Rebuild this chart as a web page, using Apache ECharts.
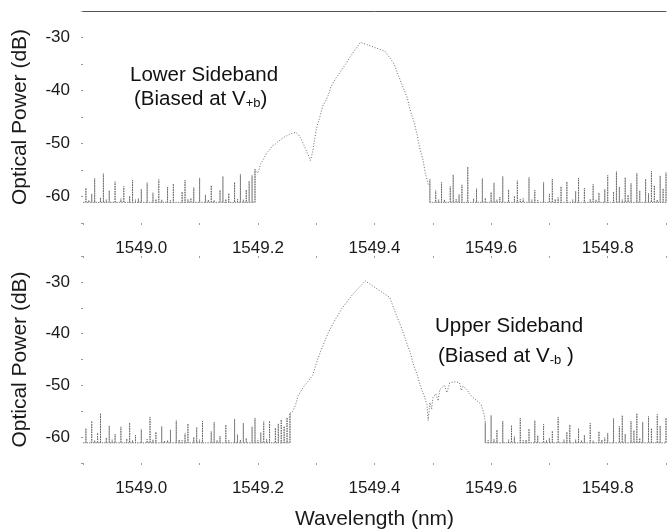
<!DOCTYPE html>
<html>
<head>
<meta charset="utf-8">
<script src="https://cdn.jsdelivr.net/npm/echarts@6/dist/echarts.min.js"></script>
<style>
  html, body { margin: 0; padding: 0; background: #fff; }
  #chart { width: 669px; height: 531px; }
</style>
</head>
<body>
<div id="chart"></div>
<script>
// sample step of the analyser in the flat noise stretches (nm)
const NOISE_STEP = 0.005;
// level the noise spikes rise from (dB)
const NOISE_FLOOR = -61.1;

// ---- top panel: lower sideband (biased at V+b) ----
const lowerLeftStart = 1548.9;
const lowerLeftNoise = [
  -61.0,-58.4,-60.7,-59.5,-56.6,-60.9,-60.2,-55.7,-60.6,-58.9,
  -61.0,-57.2,-60.8,-60.4,-58.1,-61.0,-59.9,-56.9,-60.6,-60.4,
  -58.6,-61.0,-57.4,-60.9,-59.3,-60.5,-56.8,-60.6,-61.0,-58.2,
  -60.7,-57.6,-60.9,-61.0,-59.1,-56.9,-60.5,-60.3,-58.3,-61.0,
  -56.5,-60.9,-59.7,-60.6,-57.9,-60.7,-61.0,-58.8,-56.2,-60.5,
  -59.4,-61.0,-57.3,-60.5,-55.8,-60.6,-58.7,-57.1,-56.0,-54.9
];
const lowerPeakWl = [
  1549.195,1549.200,1549.205,1549.210,1549.215,1549.220,1549.225,1549.230,1549.235,1549.240,1549.245,
  1549.250,1549.255,1549.260,1549.265,1549.270,1549.275,1549.280,1549.285,1549.290,1549.293,
  1549.297,1549.300,1549.306,1549.311,1549.320,1549.325,1549.333,1549.342,1549.350,1549.358,
  1549.365,1549.376,1549.418,1549.426,1549.434,1549.439,1549.449,1549.456,1549.461,1549.468,
  1549.473,1549.478,1549.483,1549.487,1549.493
];
const lowerPeakDb = [
  -54.9,-55.6,-53.8,-52.9,-51.8,-51.2,-50.4,-50.1,-49.6,-49.2,-48.8,
  -48.5,-48.2,-48.0,-47.9,-48.4,-49.3,-50.6,-51.8,-53.2,-52.0,
  -49.5,-47.4,-45.1,-43.0,-41.1,-39.4,-37.8,-36.4,-35.1,-33.7,
  -32.6,-30.9,-32.6,-33.8,-35.1,-36.6,-39.4,-41.3,-43.6,-46.0,
  -48.3,-51.1,-53.0,-55.5,-58.0
];
const lowerRightStart = 1549.495;
const lowerRightNoise = [
  -56.8,-61.0,-58.9,-60.6,-57.3,-60.6,-61.0,-58.1,-55.9,-60.5,
  -59.6,-57.8,-61.0,-54.4,-60.9,-60.4,-58.5,-61.0,-56.6,-60.3,
  -61.0,-59.2,-57.4,-60.6,-60.1,-56.2,-61.0,-58.7,-60.9,-59.9,
  -57.0,-60.5,-60.4,-61.0,-56.4,-60.6,-58.8,-60.7,-61.0,-57.3,
  -60.9,-59.5,-56.7,-60.5,-60.2,-58.1,-61.0,-57.2,-60.8,-60.6,
  -59.0,-56.5,-61.0,-58.4,-61.0,-60.5,-57.7,-60.6,-59.3,-61.0,
  -58.6,-56.0,-60.9,-59.1,-55.3,-58.2,-60.6,-56.4,-59.7,-57.5,
  -61.0,-55.6,-58.9,-60.8,-56.7,-59.4,-55.2,-57.9,-60.6,-56.1,
  -58.5,-55.5
];

// ---- bottom panel: upper sideband (biased at V-b) ----
const upperLeftStart = 1548.9;
const upperLeftNoise = [
  -61.0,-58.3,-60.9,-56.9,-60.6,-59.2,-55.4,-61.0,-60.1,-57.8,
  -60.5,-59.4,-60.9,-58.0,-61.0,-60.3,-57.2,-60.6,-59.6,-61.0,
  -58.5,-61.0,-60.4,-56.1,-60.5,-59.0,-61.0,-57.9,-60.7,-60.6,
  -58.6,-61.0,-56.8,-60.5,-60.6,-59.3,-57.4,-61.0,-60.0,-58.1,
  -60.5,-56.9,-60.8,-61.0,-58.9,-57.1,-60.6,-59.8,-60.9,-57.6,
  -60.6,-61.0,-56.5,-59.5,-60.5,-57.3,-60.2,-61.0,-58.0,-56.3,
  -60.6,-59.1,-57.0,-60.4,-56.9,-61.0,-58.2,-57.4,-56.6,-57.9,
  -56.2,-55.4
];
const upperPeakWl = [
  1549.255,1549.260,1549.265,1549.269,1549.277,1549.286,1549.294,1549.303,1549.311,1549.320,1549.331,
  1549.345,1549.362,1549.384,1549.426,1549.435,1549.447,1549.454,1549.462,1549.467,1549.474,
  1549.478,1549.485,1549.490,1549.492,1549.495,1549.498,1549.500,1549.505,1549.509,1549.512,
  1549.520,1549.524,1549.529,1549.538,1549.546,1549.549,1549.552,1549.558,1549.563,1549.569,
  1549.576,1549.583,1549.588,1549.590
];
const upperPeakDb = [
  -55.4,-55.0,-53.6,-52.0,-50.5,-49.2,-48.0,-44.8,-42.5,-40.0,-37.6,
  -35.0,-32.5,-29.8,-33.0,-35.7,-39.1,-41.4,-43.9,-46.1,-48.2,
  -49.9,-52.0,-53.7,-56.8,-53.3,-54.6,-52.4,-51.6,-53.0,-50.8,
  -50.0,-51.4,-49.5,-49.3,-49.5,-51.0,-50.1,-50.8,-51.6,-52.4,
  -53.0,-53.7,-55.6,-57.2
];
const upperRightStart = 1549.59;
const upperRightNoise = [
  -57.2,-60.6,-55.8,-60.4,-58.6,-61.0,-56.9,-60.8,-60.5,-57.7,
  -59.9,-61.0,-56.3,-60.6,-60.5,-58.4,-60.9,-56.8,-59.7,-61.0,
  -57.5,-60.6,-60.2,-58.8,-61.0,-56.1,-60.9,-60.5,-59.0,-57.6,
  -61.0,-60.5,-58.3,-60.6,-59.6,-61.0,-57.3,-60.7,-61.0,-58.9,
  -60.5,-60.1,-59.2,-61.0,-56.4,-60.8,-57.9,-55.8,-59.4,-61.0,
  -56.9,-58.7,-55.4,-60.2,-57.1,-60.9,-56.0,-58.3,-60.9,-55.6,
  -57.8,-61.0,-56.3
];

const X_MIN = 1548.9, X_MAX = 1549.9;
const Y_MIN = -65, Y_MAX = -25;

const FONT = 'Liberation Sans, Arial, sans-serif';
const TRACE = '#6a6a6a';
const NOISE = '#5a5a5a';

// each noise sample is drawn as a vertical strip from the floor up to its reading
function noiseStrips(start, values) {
  const out = [];
  values.forEach((v, i) => {
    const x = start + i * NOISE_STEP;
    out.push([x, NOISE_FLOOR], [x, v], [x, NOISE_FLOOR]);
  });
  return out;
}
function pairs(wl, db) {
  return wl.map((w, i) => [w, db[i]]);
}

const lowerNoise = [].concat(
  noiseStrips(lowerLeftStart, lowerLeftNoise), [null],
  noiseStrips(lowerRightStart, lowerRightNoise)
);
const upperNoise = [].concat(
  noiseStrips(upperLeftStart, upperLeftNoise), [null],
  noiseStrips(upperRightStart, upperRightNoise)
);

function wlLabel(v) {
  const t = Math.round(v * 10);
  return t % 2 === 0 ? (t / 10).toFixed(1) : '';
}

function mainX(grid, extra) {
  return Object.assign({
    type: 'value', gridIndex: grid, position: 'bottom',
    min: X_MIN, max: X_MAX, interval: 0.1,
    axisLine: { show: false },
    axisTick: { show: true, length: 2, lineStyle: { color: '#9a9a9a', width: 1 } },
    axisLabel: { formatter: wlLabel, fontSize: 17, color: '#1a1a1a', fontFamily: FONT, margin: 17 },
    splitLine: { show: false }
  }, extra || {});
}
function tickOnlyX(grid, pos) {
  return {
    type: 'value', gridIndex: grid, position: pos,
    min: X_MIN, max: X_MAX, interval: 0.1,
    axisLine: { show: false },
    axisTick: { show: true, length: 2, inside: pos === 'top', lineStyle: { color: '#9a9a9a' } },
    axisLabel: { show: false },
    splitLine: { show: false }
  };
}
function powerY(grid) {
  return {
    type: 'value', gridIndex: grid,
    min: Y_MIN, max: Y_MAX, interval: 5,
    name: 'Optical Power (dB)', nameLocation: 'middle', nameGap: 52,
    nameTextStyle: { fontSize: 21, color: '#1a1a1a', fontFamily: FONT },
    axisLine: { show: false },
    axisTick: { show: true, length: 2, lineStyle: { color: '#9a9a9a' } },
    axisLabel: {
      formatter: v => (v % 10 === 0 && v > Y_MIN && v < Y_MAX) ? String(v) : '',
      fontSize: 17, color: '#1a1a1a', fontFamily: FONT, margin: 13
    },
    splitLine: { show: false }
  };
}

function noiseSeries(xi, yi, data) {
  return {
    type: 'line', xAxisIndex: xi, yAxisIndex: yi, data: data,
    showSymbol: false, connectNulls: false,
    lineStyle: { color: NOISE, width: 0.8, type: [1.5, 1] }
  };
}
function peakSeries(xi, yi, data) {
  return {
    type: 'line', xAxisIndex: xi, yAxisIndex: yi, data: data,
    showSymbol: false,
    lineStyle: { color: TRACE, width: 1, type: [1, 1.8] }
  };
}

const chart = echarts.init(document.getElementById('chart'));

const subRich = {
  a: { fontSize: 20.5, fill: '#111', fontFamily: FONT, lineHeight: 24 },
  s: { fontSize: 13, fill: '#111', fontFamily: FONT, lineHeight: 24, padding: [9, 0, 0, 0] }
};

chart.setOption({
  backgroundColor: '#fff',
  animation: false,
  grid: [
    { left: 83, right: -3, top: 11, height: 212 },
    { left: 83, right: -3, top: 256, height: 211 }
  ],
  xAxis: [
    mainX(0),
    {
      type: 'value', gridIndex: 0, position: 'top', min: X_MIN, max: X_MAX,
      axisLine: { show: true, lineStyle: { color: '#555', width: 1 } },
      axisTick: { show: false }, axisLabel: { show: false }, splitLine: { show: false }
    },
    mainX(1, {
      name: 'Wavelength (nm)', nameLocation: 'middle', nameGap: 46,
      nameTextStyle: { fontSize: 21, color: '#1a1a1a', fontFamily: FONT }
    }),
    tickOnlyX(1, 'top')
  ],
  yAxis: [powerY(0), powerY(1)],
  series: [
    noiseSeries(0, 0, lowerNoise),
    peakSeries(0, 0, pairs(lowerPeakWl, lowerPeakDb)),
    noiseSeries(2, 1, upperNoise),
    peakSeries(2, 1, pairs(upperPeakWl, upperPeakDb))
  ],
  graphic: [
    {
      type: 'text', left: 130, top: 65,
      style: { text: 'Lower Sideband', fontSize: 20.5, fill: '#111', fontFamily: FONT }
    },
    {
      type: 'text', left: 134, top: 88,
      style: { text: '{a|(Biased at V}{s|+b}{a|)}', fontFamily: FONT, rich: subRich }
    },
    {
      type: 'text', left: 435, top: 316,
      style: { text: 'Upper Sideband', fontSize: 20.5, fill: '#111', fontFamily: FONT }
    },
    {
      type: 'text', left: 438, top: 345,
      style: { text: '{a|(Biased at V}{s|-b}{a| )}', fontFamily: FONT, rich: subRich }
    }
  ]
});
</script>
</body>
</html>
